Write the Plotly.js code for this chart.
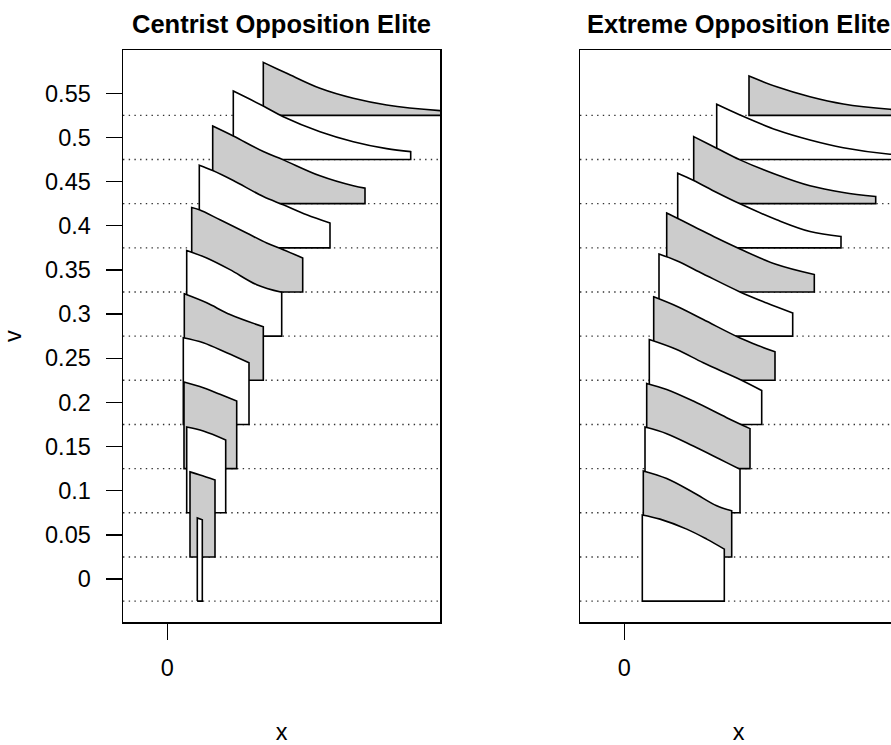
<!DOCTYPE html>
<html>
<head>
<meta charset="utf-8">
<script src="https://cdn.plot.ly/plotly-3.0.1.min.js"></script>
<style>
html, body { margin: 0; padding: 0; overflow: hidden; background: white; }
#plot { width: 914px; height: 745px; }
</style>
</head>
<body>
<div id="plot"></div>
<script>
// Levels (v) of each ridge; each ridge's baseline sits at v - 0.025
const levels = [0, 0.05, 0.1, 0.15, 0.2, 0.25, 0.3, 0.35, 0.4, 0.45, 0.5, 0.55];
const panelTitles = ['Centrist Opposition Elite', 'Extreme Opposition Elite'];
const xTickVals = [0];
const xTickText = ['0'];

// Centrist Opposition Elite: x positions along each ridge and ridge heights
const centristX = [
  [0.30, 0.35],
  [0.227, 0.327, 0.477],
  [0.194, 0.36, 0.584],
  [0.167, 0.36, 0.527, 0.694],
  [0.16, 0.36, 0.594, 0.817],
  [0.17, 0.394, 0.627, 0.96],
  [0.194, 0.394, 0.627, 0.894, 1.144],
  [0.244, 0.32, 0.527, 0.794, 0.994, 1.16, 1.354],
  [0.32, 0.454, 0.66, 0.96, 1.16, 1.394, 1.627],
  [0.454, 0.66, 0.96, 1.16, 1.527, 1.86, 1.977],
  [0.66, 0.96, 1.16, 1.527, 1.86, 2.194, 2.434],
  [0.96, 1.194, 1.527, 1.86, 2.194, 2.727, 3.127]
];
const centristH = [
  [0.0942, 0.092],
  [0.0963, 0.0929, 0.0872],
  [0.0971, 0.0925, 0.0824],
  [0.098, 0.0916, 0.0841, 0.0765],
  [0.0981, 0.0924, 0.0811, 0.0698],
  [0.0979, 0.0877, 0.0745, 0.0606],
  [0.0971, 0.0885, 0.0753, 0.0583, 0.0496],
  [0.0957, 0.0931, 0.0818, 0.0668, 0.0555, 0.0479, 0.0385],
  [0.0936, 0.0875, 0.0762, 0.0581, 0.0487, 0.0374, 0.028],
  [0.088, 0.0767, 0.059, 0.0496, 0.0315, 0.0202, 0.0176],
  [0.0775, 0.0606, 0.0485, 0.0315, 0.0202, 0.0123, 0.0089],
  [0.060, 0.0476, 0.0306, 0.0193, 0.0118, 0.0053, 0.0027]
];

// Extreme Opposition Elite
const extremeX = [
  [0.18, 0.357, 0.624, 0.824, 1.0],
  [0.19, 0.424, 0.69, 0.924, 1.074],
  [0.207, 0.424, 0.69, 0.957, 1.157],
  [0.224, 0.424, 0.69, 1.024, 1.257],
  [0.25, 0.524, 0.79, 1.157, 1.374],
  [0.294, 0.524, 0.79, 1.157, 1.337, 1.507],
  [0.347, 0.524, 0.79, 1.157, 1.424, 1.684],
  [0.424, 0.694, 0.924, 1.157, 1.524, 1.9],
  [0.534, 0.694, 0.924, 1.157, 1.524, 1.857, 2.167],
  [0.694, 0.924, 1.157, 1.524, 1.857, 2.19, 2.514],
  [0.924, 1.157, 1.524, 1.857, 2.19, 2.657, 3.057],
  [1.247, 1.524, 1.857, 2.19, 2.657, 3.057]
];
const extremeH = [
  [0.0976, 0.0928, 0.0815, 0.0702, 0.0589],
  [0.0974, 0.0888, 0.073, 0.0579, 0.0522],
  [0.0971, 0.0896, 0.0756, 0.0606, 0.0493],
  [0.0965, 0.0897, 0.0765, 0.0577, 0.0453],
  [0.0962, 0.0849, 0.0698, 0.051, 0.0385],
  [0.0945, 0.0838, 0.0688, 0.0479, 0.0394, 0.0323],
  [0.093, 0.0854, 0.0704, 0.0501, 0.0376, 0.0263],
  [0.0894, 0.0742, 0.0611, 0.0487, 0.031, 0.0197],
  [0.0845, 0.0762, 0.0626, 0.0498, 0.0318, 0.0185, 0.0129],
  [0.0759, 0.0628, 0.0496, 0.0327, 0.0202, 0.0127, 0.0081],
  [0.0625, 0.0504, 0.0334, 0.0221, 0.0134, 0.006, 0.0035],
  [0.0445, 0.0324, 0.0211, 0.0129, 0.0069, 0.0044]
];

const X_RANGE = [-0.443, 2.727];
const Y_RANGE = [-0.049, 0.599];
const W = 914, H = 745;

const traces = [];
function addPanel(xs, hs, xa, ya) {
  // dotted reference lines at each baseline
  levels.forEach(v => {
    traces.push({
      type: 'scatter', mode: 'lines', xaxis: xa, yaxis: ya,
      x: [X_RANGE[0], X_RANGE[1]], y: [v - 0.025, v - 0.025],
      line: {color: '#333333', width: 1.4, dash: '1.4px,4.3px'},
      hoverinfo: 'skip'
    });
  });
  // ridges drawn from the top level down, so lower ridges overlap upper ones
  for (let i = levels.length - 1; i >= 0; i--) {
    const b = levels[i] - 0.025;
    const px = xs[i], ph = hs[i];
    const n = px.length;
    const x0 = px[0], x1 = px[n - 1];
    // corner points are repeated so the smoothed outline keeps sharp corners
    const x = [x0, x0, x0].concat(px.slice(1, n - 1), [x1, x1, x1, x1, x0, x0]);
    const y = [b, b + ph[0], b + ph[0]].concat(ph.slice(1, n - 1).map(h => b + h),
              [b + ph[n - 1], b + ph[n - 1], b, b, b, b]);
    traces.push({
      type: 'scatter', mode: 'lines', xaxis: xa, yaxis: ya,
      x: x, y: y, fill: 'toself',
      fillcolor: (i % 2 === 0) ? '#ffffff' : '#cccccc',
      line: {color: '#000000', width: 1.6, shape: n > 2 ? 'spline' : 'linear', smoothing: 1, simplify: false},
      hoverinfo: 'skip'
    });
  }
}
addPanel(centristX, centristH, 'x', 'y');
addPanel(extremeX, extremeH, 'x2', 'y2');

const yDom = [(H - 622.3) / H, (H - 50) / H];
const baseX = {
  range: X_RANGE, tickvals: xTickVals, ticktext: xTickText,
  ticks: 'outside', ticklen: 16, tickwidth: 1.3, tickcolor: '#000',
  showline: true, mirror: true, linecolor: '#000', linewidth: 1.5,
  showgrid: false, zeroline: false, automargin: false,
  ticklabelstandoff: 8,
  title: {text: 'x', standoff: 43, font: {size: 23.5}}
};
const baseY = {
  range: Y_RANGE, showline: true, mirror: true, linecolor: '#000', linewidth: 1.5,
  showgrid: false, zeroline: false, automargin: false
};

const layout = {
  width: W, height: H,
  margin: {l: 0, r: 0, t: 0, b: 0},
  paper_bgcolor: '#fff', plot_bgcolor: '#fff',
  showlegend: false,
  font: {family: '"Liberation Sans", Arial, sans-serif', size: 23.5, color: '#000'},
  xaxis: Object.assign({}, baseX, {domain: [123 / W, 440 / W], anchor: 'y'}),
  xaxis2: Object.assign({}, baseX, {domain: [580 / W, 897 / W], anchor: 'y2'}),
  yaxis: Object.assign({}, baseY, {
    domain: yDom, anchor: 'x',
    tickvals: levels, ticks: 'outside', ticklen: 16, tickwidth: 1.3, tickcolor: '#000',
    ticklabelstandoff: 10,
    title: {text: 'v', standoff: 18, font: {size: 23.5}}
  }),
  yaxis2: Object.assign({}, baseY, {domain: yDom, anchor: 'x2', showticklabels: false, ticks: ''}),
  annotations: [
    {text: '<b>' + panelTitles[0] + '</b>', xref: 'paper', yref: 'paper',
     x: (123 + 440) / 2 / W, y: 1 - 24 / H, xanchor: 'center', yanchor: 'middle',
     showarrow: false, font: {size: 25.5}},
    {text: '<b>' + panelTitles[1] + '</b>', xref: 'paper', yref: 'paper',
     x: (580 + 897) / 2 / W, y: 1 - 24 / H, xanchor: 'center', yanchor: 'middle',
     showarrow: false, font: {size: 25.5}}
  ]
};

Plotly.newPlot('plot', traces, layout, {displayModeBar: false, staticPlot: true});
</script>
</body>
</html>
